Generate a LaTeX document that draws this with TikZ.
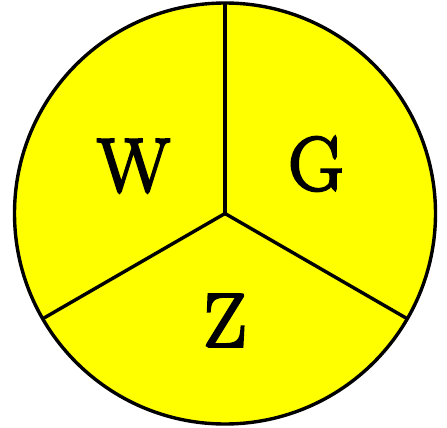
\documentclass[tikz,border=0pt]{standalone}
\definecolor{pureyellow}{RGB}{255,255,0}
\newcommand{\heavytext}[1]{\special{pdf:literal 2 Tr 2.6 w}#1\special{pdf:literal 0 Tr}}
\begin{document}
\begin{tikzpicture}[x=1pt,y=-1pt,
  seg/.style={line width=3.4pt,black},
  lab/.style={font=\fontsize{76}{84}\selectfont,inner sep=0pt,anchor=center}]
\useasboundingbox (0,0) rectangle (447,428);
\coordinate (c) at (225,213.5);
\draw[seg,fill=pureyellow] (c) circle[radius=210.5];
\draw[seg] (c) -- ++(0,-210.5) coordinate (top);
\draw[seg] (c) -- ++(-182.3,105.25) coordinate (ll);
\draw[seg] (c) -- ++(182.3,105.25) coordinate (lr);
\node[lab] (w) at (133.5,166) {\heavytext{W}};
\node[lab] (g) at (316,164) {\heavytext{G}};
\node[lab] (z) at (225,320.5) {\heavytext{Z}};
\end{tikzpicture}
\end{document}
